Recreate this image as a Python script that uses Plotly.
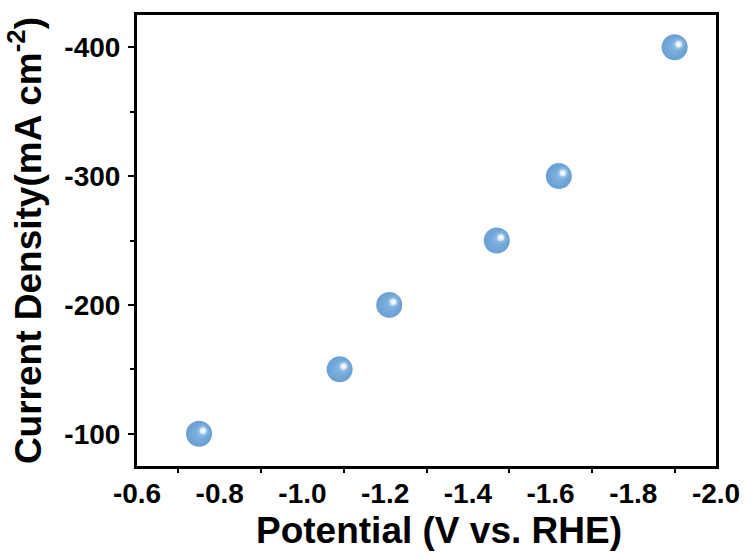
import plotly.graph_objects as go

# Potential (V vs. RHE) and the current density reached at each potential
potential = [-0.75, -1.09, -1.21, -1.47, -1.62, -1.90]
current_density = [-100, -150, -200, -250, -300, -400]

x_ticks = [-0.6, -0.8, -1.0, -1.2, -1.4, -1.6, -1.8, -2.0]
x_tick_text = ["-0.6", "-0.8", "-1.0", "-1.2", "-1.4", "-1.6", "-1.8", "-2.0"]
y_ticks = [-100, -200, -300, -400]
y_tick_text = ["-100", "-200", "-300", "-400"]

X_RANGE = [-0.6, -2.0]
Y_RANGE = [-75, -425]

W, H = 752, 558
M = dict(l=137, r=33, t=14, b=92)
plot_w = W - M["l"] - M["r"]
plot_h = H - M["t"] - M["b"]

# shift (in pixels) of the specular highlight towards the upper left
HL_DX, HL_DY = 4, 3
dx = HL_DX * abs(X_RANGE[1] - X_RANGE[0]) / plot_w
dy = HL_DY * abs(Y_RANGE[1] - Y_RANGE[0]) / plot_h
x2_range = [X_RANGE[0] + dx, X_RANGE[1] + dx]
y2_range = [Y_RANGE[0] + dy, Y_RANGE[1] + dy]

FONT = "Liberation Sans, Arial, sans-serif"

fig = go.Figure()

# sphere body
fig.add_trace(go.Scatter(
    x=potential, y=current_density, mode="markers",
    marker=dict(size=26, color="#6a9fd2",
                gradient=dict(type="radial", color="#7fb4e2"),
                line=dict(width=0)),
    hoverinfo="skip", showlegend=False,
))
# soft glow of the highlight
fig.add_trace(go.Scatter(
    x=potential, y=current_density, mode="markers", xaxis="x2", yaxis="y2",
    marker=dict(size=16, color="rgba(127,180,226,0)",
                gradient=dict(type="radial", color="rgba(228,240,251,1)"),
                line=dict(width=0)),
    hoverinfo="skip", showlegend=False,
))
# bright core of the highlight
fig.add_trace(go.Scatter(
    x=potential, y=current_density, mode="markers", xaxis="x2", yaxis="y2",
    marker=dict(size=7, color="rgba(255,255,255,0.4)",
                gradient=dict(type="radial", color="white"),
                line=dict(width=0)),
    hoverinfo="skip", showlegend=False,
))

axis_font = dict(family=FONT, size=28, color="black", weight="bold")
title_font = dict(family=FONT, size=37, color="black", weight="bold")

fig.update_layout(
    width=W, height=H, margin=M,
    paper_bgcolor="white", plot_bgcolor="white",
    xaxis=dict(
        range=X_RANGE, showgrid=False, zeroline=False,
        showline=True, linecolor="black", linewidth=3, mirror=True,
        tickmode="array", tickvals=x_ticks, ticktext=x_tick_text,
        ticks="", tickfont=axis_font, ticklabelstandoff=0,
        minor=dict(tick0=-0.7, dtick=0.2, ticks="outside", ticklen=4,
                   tickwidth=2, tickcolor="black"),
    ),
    yaxis=dict(
        range=Y_RANGE, showgrid=False, zeroline=False,
        showline=True, linecolor="black", linewidth=3, mirror=True,
        tickmode="array", tickvals=y_ticks, ticktext=y_tick_text,
        ticks="outside", ticklen=6, tickwidth=2, tickcolor="black",
        tickfont=axis_font, ticklabelstandoff=2,
        minor=dict(tick0=-50, dtick=100, ticks="outside", ticklen=4,
                   tickwidth=2, tickcolor="black"),
        title=dict(text="Current Density(mA cm<sup>-2</sup>)", font=title_font, standoff=12),
    ),
    xaxis2=dict(range=x2_range, overlaying="x", visible=False),
    yaxis2=dict(range=y2_range, overlaying="y", visible=False),
    annotations=[dict(
        text="Potential (V vs. RHE)", font=title_font, showarrow=False,
        xref="paper", yref="paper", x=0.522, y=-0.143,
        xanchor="center", yanchor="middle",
    )],
)

fig.write_html("out.html")
